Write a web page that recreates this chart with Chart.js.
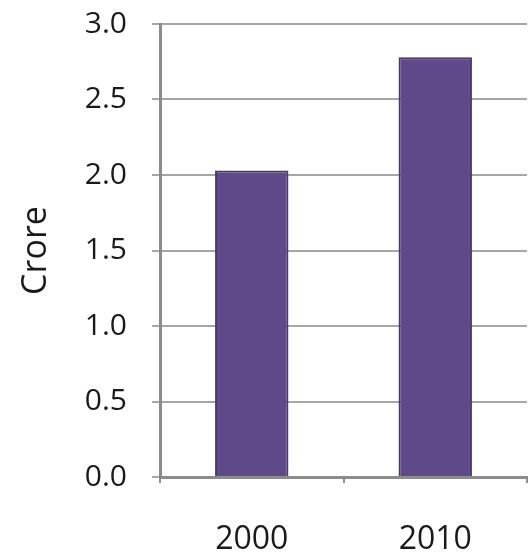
<!DOCTYPE html>
<html>
<head>
<meta charset="utf-8">
<script src="https://cdn.jsdelivr.net/npm/chart.js@4/dist/chart.umd.min.js"></script>
<style>
  html, body { margin: 0; padding: 0; background: #fff; }
  #wrap { width: 531px; height: 555px; }
</style>
</head>
<body>
<div id="wrap"><canvas id="chart" width="531" height="555"></canvas></div>
<script>
// --- data ---
const years = ['2000', '2010'];
const population = [2.03, 2.78];   // crore
const yTicks = [0, 0.5, 1.0, 1.5, 2.0, 2.5, 3.0];

const ctx = document.getElementById('chart');

new Chart(ctx, {
    type: 'bar',
    data: {
        labels: years,
        datasets: [{
            data: population,
            backgroundColor: '#5e4a88',
            borderColor: '#47376d',
            borderWidth: 2,
            barPercentage: 0.4,
            categoryPercentage: 1.0
        }]
    },
    options: {
        responsive: false,
        animation: false,
        layout: { padding: { top: 24, right: 4, left: 0, bottom: 0 } },
        plugins: { legend: { display: false }, tooltip: { enabled: false } },
        scales: {
            x: {
                grid: { display: true, drawOnChartArea: false, offset: true, color: '#8c8c8c', lineWidth: 2, tickLength: 6 },
                border: { color: '#8c8c8c', width: 3 },
                ticks: { color: '#1a1a1a', font: { family: 'Open Sans', size: 32 }, padding: 38 },
                afterFit: (s) => { s.height = 78; s.paddingLeft = 0; s.paddingRight = 0; }
            },
            y: {
                min: 0,
                max: 3,
                afterBuildTicks: (s) => { s.ticks = yTicks.map(v => ({ value: v })); },
                grid: { color: '#a6a6a6', lineWidth: 2, tickLength: 8 },
                border: { color: '#8c8c8c', width: 3 },
                ticks: {
                    color: '#1a1a1a',
                    font: { family: 'Open Sans', size: 30 },
                    padding: 25,
                    callback: (v) => Number(v).toFixed(1)
                },
                title: {
                    display: true,
                    text: 'Crore',
                    color: '#1a1a1a',
                    font: { family: 'Open Sans', size: 34 },
                    padding: { top: 16, bottom: 0 }
                },
                afterFit: (s) => { s.width = 160; s.paddingTop = 0; s.paddingBottom = 0; }
            }
        }
    }
});
</script>
</body>
</html>
